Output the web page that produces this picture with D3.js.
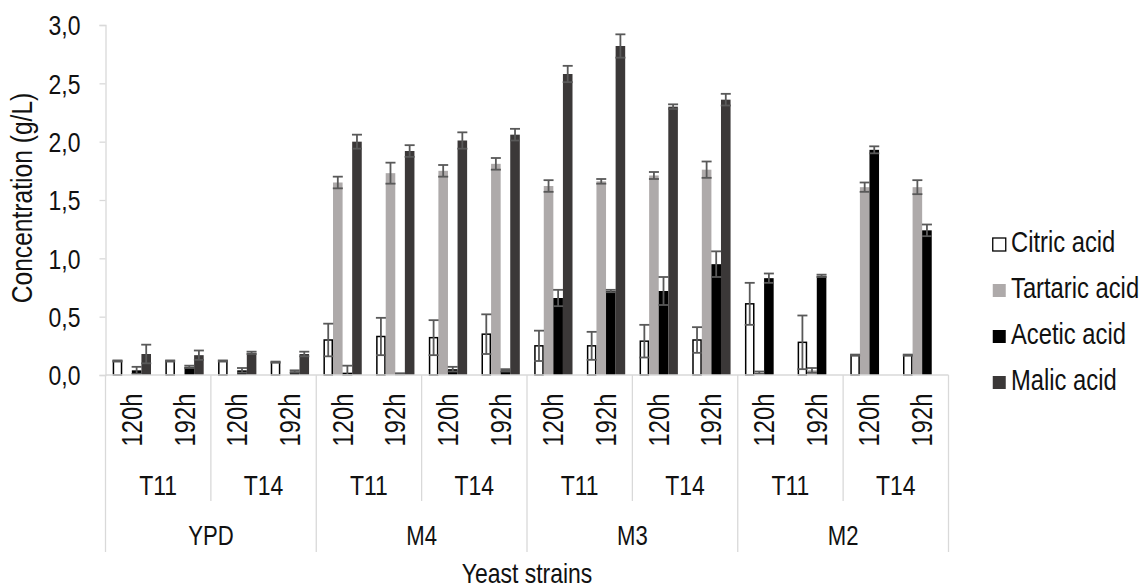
<!DOCTYPE html>
<html>
<head>
<meta charset="utf-8">
<script src="https://cdn.jsdelivr.net/npm/d3@7"></script>
<style>
  body { margin: 0; background: #fff; }
  svg text { font-family: "Liberation Sans", Arial, sans-serif; fill: #111; }
</style>
</head>
<body>
<svg width="1147" height="587"></svg>
<script>
const w = 1147;
const h = 587;

// categories: time / strain / medium
const media = ["YPD", "M4", "M3", "M2"];
const strains = ["T11", "T14"];
const times = ["120h", "192h"];
const series = ["Citric acid", "Tartaric acid", "Acetic acid", "Malic acid"];

// values (g/L), one per bar, in axis order
const citric      = [0.12, 0.12, 0.12, 0.11, 0.30, 0.33, 0.32, 0.35, 0.25, 0.25, 0.29, 0.30, 0.61, 0.28, 0.17, 0.17];
const citricErr   = [0.005, 0.005, 0.005, 0.005, 0.14, 0.16, 0.15, 0.17, 0.13, 0.12, 0.14, 0.11, 0.18, 0.23, 0.005, 0.005];
const tartaric    = [0, 0, 0, 0, 1.65, 1.73, 1.75, 1.81, 1.62, 1.66, 1.71, 1.76, 0.02, 0.04, 1.61, 1.61];
const tartaricErr = [0, 0, 0, 0, 0.05, 0.09, 0.05, 0.05, 0.05, 0.02, 0.03, 0.07, 0.01, 0.02, 0.04, 0.06];
const acetic      = [0.04, 0.07, 0.04, 0.03, 0.02, 0.01, 0.05, 0.04, 0.66, 0.72, 0.72, 0.95, 0.83, 0.85, 1.93, 1.24];
const aceticErr   = [0.03, 0.01, 0.02, 0.01, 0.06, 0.005, 0.02, 0.01, 0.07, 0.01, 0.12, 0.11, 0.04, 0.01, 0.03, 0.05];
const malic       = [0.18, 0.17, 0.19, 0.18, 2.00, 1.92, 2.01, 2.06, 2.58, 2.82, 2.30, 2.36, 0, 0, 0, 0];
const malicErr    = [0.08, 0.04, 0.01, 0.02, 0.06, 0.05, 0.07, 0.05, 0.07, 0.10, 0.02, 0.05, 0, 0, 0, 0];

const yTicks = [0, 0.5, 1, 1.5, 2, 2.5, 3];

const values = [citric, tartaric, acetic, malic];
const errors = [citricErr, tartaricErr, aceticErr, malicErr];
const fills = ["#ffffff", "#aeaaaa", "#000000", "#3b3838"];

const cats = [];
media.forEach(m => strains.forEach(s => times.forEach(t => cats.push({ m, s, t, key: m + s + t }))));

const svg = d3.select("svg");
const plotL = 105.5, plotR = 948.5, plotT = 25, base = 375;
const sx = 0.82; // condensed look of the original font
const fs = 28;

const x0 = d3.scaleBand().domain(cats.map(d => d.key)).range([plotL, plotR]);
const x1 = d3.scaleBand().domain(series).range([0, x0.bandwidth()]).paddingOuter(0.75);
const y = d3.scaleLinear().domain([0, 3]).range([base, plotT]);

const comma = d3.formatLocale({ decimal: ",", thousands: ".", grouping: [3], currency: ["", ""] }).format(".1f");

// y axis
const yAxis = svg.append("g")
  .attr("transform", `translate(${plotL},0)`)
  .call(d3.axisLeft(y).tickValues(yTicks).tickFormat(comma).tickSize(6));
yAxis.select(".domain").attr("stroke", "#d9d9d9").attr("stroke-width", 1.3);
yAxis.selectAll(".tick line").attr("stroke", "#d9d9d9").attr("stroke-width", 1.3);
yAxis.selectAll(".tick text")
  .attr("x", null)
  .attr("dy", "0.35em")
  .attr("font-size", fs)
  .attr("fill", "#111")
  .attr("font-family", "Liberation Sans, Arial, sans-serif")
  .attr("transform", `translate(-25,0) scale(${sx},1)`);

svg.append("text")
  .attr("transform", `translate(32,198) rotate(-90) scale(${sx},1)`)
  .attr("text-anchor", "middle")
  .attr("font-size", 30)
  .text("Concentration (g/L)");

// bars
const rows = cats.map((c, i) => ({ key: c.key, i }));
const grp = svg.append("g").selectAll("g")
  .data(rows)
  .join("g")
  .attr("transform", d => `translate(${x0(d.key)},0)`);

series.forEach((s, si) => {
  grp.filter(d => values[si][d.i] > 0)
    .append("rect")
    .attr("x", x1(s) + (si === 0 ? 0.75 : 0))
    .attr("width", x1.bandwidth() - (si === 0 ? 1.5 : 0))
    .attr("y", d => y(values[si][d.i]))
    .attr("height", d => base - y(values[si][d.i]))
    .attr("fill", fills[si])
    .attr("stroke", si === 0 ? "#000" : "none")
    .attr("stroke-width", si === 0 ? 1.5 : 0);
});

// error bars
series.forEach((s, si) => {
  const cx = x1(s) + x1.bandwidth() / 2;
  const eb = grp.filter(d => values[si][d.i] > 0).append("g")
    .attr("stroke", "#595959")
    .attr("stroke-width", 1.8);
  eb.append("line")
    .attr("x1", cx).attr("x2", cx)
    .attr("y1", d => y(values[si][d.i] + errors[si][d.i]))
    .attr("y2", d => y(Math.max(0, values[si][d.i] - errors[si][d.i])));
  [1, -1].forEach(sg => {
    eb.append("line")
      .attr("x1", cx - 5).attr("x2", cx + 5)
      .attr("y1", d => y(Math.max(0, values[si][d.i] + sg * errors[si][d.i])))
      .attr("y2", d => y(Math.max(0, values[si][d.i] + sg * errors[si][d.i])));
  });
});

// category axis (three levels)
const axisG = svg.append("g").attr("stroke", "#d9d9d9").attr("stroke-width", 1.3);
axisG.append("line").attr("x1", plotL).attr("x2", plotR).attr("y1", base).attr("y2", base);

const stepStrain = x0.step() * times.length;
const stepMedium = stepStrain * strains.length;
d3.range(media.length * strains.length + 1).forEach(k => {
  const xx = plotL + k * stepStrain;
  axisG.append("line").attr("x1", xx).attr("x2", xx).attr("y1", base)
    .attr("y2", k % strains.length === 0 ? 552 : 501);
});

svg.append("g").selectAll("text")
  .data(cats)
  .join("text")
  .attr("transform", d => `translate(${x0(d.key) + x0.bandwidth() / 2 + 10},420) rotate(-90) scale(${sx},1)`)
  .attr("text-anchor", "middle")
  .attr("font-size", 29)
  .text(d => d.t);

const strainCats = [];
media.forEach((m, mi) => strains.forEach((s, si) => strainCats.push({ s, idx: mi * strains.length + si })));
svg.append("g").selectAll("text")
  .data(strainCats)
  .join("text")
  .attr("transform", d => `translate(${plotL + (d.idx + 0.5) * stepStrain},495) scale(${sx},1)`)
  .attr("text-anchor", "middle")
  .attr("font-size", fs)
  .text(d => d.s);

svg.append("g").selectAll("text")
  .data(media)
  .join("text")
  .attr("transform", (d, i) => `translate(${plotL + (i + 0.5) * stepMedium},545) scale(${sx},1)`)
  .attr("text-anchor", "middle")
  .attr("font-size", 27)
  .text(d => d);

svg.append("text")
  .attr("transform", `translate(${(plotL + plotR) / 2},583) scale(${sx},1)`)
  .attr("text-anchor", "middle")
  .attr("font-size", 28)
  .text("Yeast strains");

// legend
const legend = svg.append("g").selectAll("g")
  .data(series)
  .join("g")
  .attr("transform", (d, i) => `translate(992,${252 + i * 46})`);
legend.append("rect")
  .attr("x", 0.75).attr("y", -14).attr("width", 13).attr("height", 13)
  .attr("fill", (d, i) => fills[i])
  .attr("stroke", (d, i) => i === 0 ? "#000" : "none")
  .attr("stroke-width", 1.3);
legend.append("text")
  .attr("transform", `translate(19,0) scale(${sx},1)`)
  .attr("font-size", 29)
  .text(d => d);
</script>
</body>
</html>
